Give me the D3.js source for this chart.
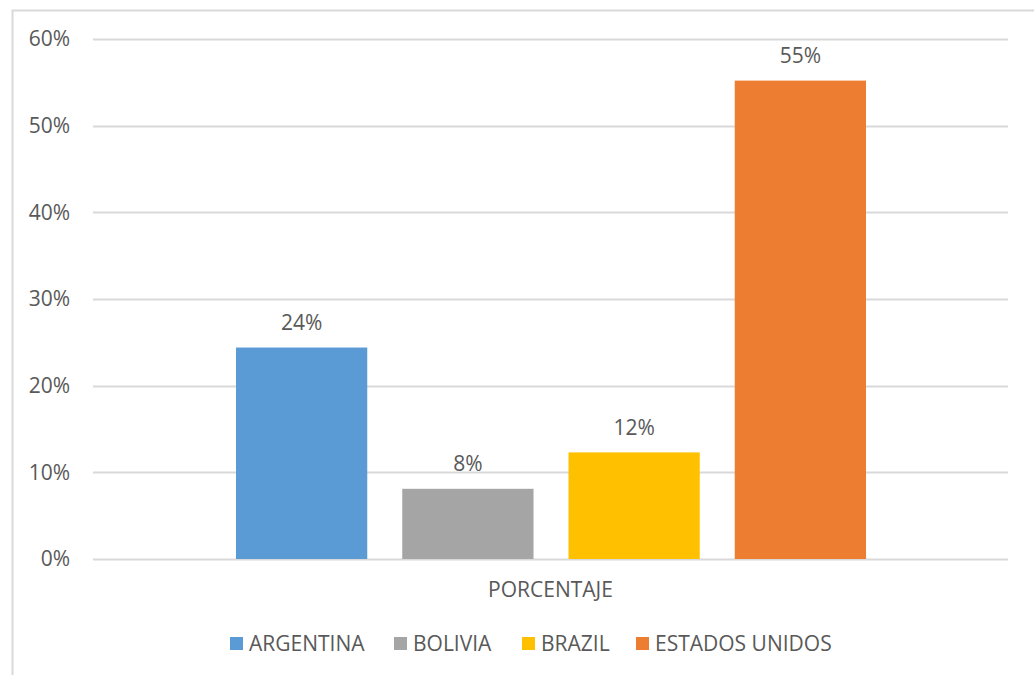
<!DOCTYPE html>
<html>
<head>
<meta charset="utf-8">
<script src="https://cdn.jsdelivr.net/npm/d3@7"></script>
<style>
  body { margin: 0; background: #fff; }
  svg text { font-family: "Open Sans", "Noto Sans", sans-serif; fill: #595959; }
</style>
</head>
<body>
<svg id="chart"></svg>
<script>
var countries = ['ARGENTINA', 'BOLIVIA', 'BRAZIL', 'ESTADOS UNIDOS'];
var values = [0.244, 0.081, 0.123, 0.552];
var valueLabels = ['24%', '8%', '12%', '55%'];
var colors = ['#5b9bd5', '#a5a5a5', '#ffc000', '#ed7d31'];
var yTicks = [0, 0.1, 0.2, 0.3, 0.4, 0.5, 0.6];
var categoryLabel = 'PORCENTAJE';

var width = 1034, height = 675;
var svg = d3.select('#chart').attr('width', width).attr('height', height);

// chart frame (right and bottom edges fall outside the picture)
svg.append('rect')
    .attr('x', 12.5).attr('y', 10.5)
    .attr('width', width + 10).attr('height', height + 10)
    .attr('fill', '#fff')
    .attr('stroke', '#d9d9d9')
    .attr('stroke-width', 2);

var plot = { left: 93, right: 1008, top: 39, bottom: 559 };

var y = d3.scaleLinear()
    .domain([0, 0.6])
    .range([plot.bottom, plot.top]);

var x = d3.scaleBand()
    .domain(countries)
    .range([236 - 17.5, 866 + 17.5])
    .paddingInner(35 / 166.3)
    .paddingOuter(17.5 / 166.3);

// gridlines
svg.append('g')
    .selectAll('line')
    .data(yTicks)
    .join('line')
    .attr('x1', plot.left).attr('x2', plot.right)
    .attr('y1', function (d) { return Math.round(y(d)) + 0.5; })
    .attr('y2', function (d) { return Math.round(y(d)) + 0.5; })
    .attr('stroke', '#d9d9d9')
    .attr('stroke-width', 2);

// y labels
svg.append('g')
    .selectAll('text')
    .data(yTicks)
    .join('text')
    .attr('x', 70)
    .attr('y', function (d) { return y(d); })
    .attr('dy', '0.35em')
    .attr('text-anchor', 'end')
    .style('font-size', '21px')
    .text(d3.format('.0%'));

// bars
svg.append('g')
    .selectAll('rect')
    .data(countries)
    .join('rect')
    .attr('x', function (d) { return x(d); })
    .attr('width', x.bandwidth())
    .attr('y', function (d, i) { return y(values[i]); })
    .attr('height', function (d, i) { return plot.bottom - y(values[i]); })
    .attr('fill', function (d, i) { return colors[i]; });

// value labels
svg.append('g')
    .selectAll('text')
    .data(countries)
    .join('text')
    .attr('x', function (d) { return x(d) + x.bandwidth() / 2; })
    .attr('y', function (d, i) { return y(values[i]) - 25; })
    .attr('dy', '0.35em')
    .attr('text-anchor', 'middle')
    .style('font-size', '21px')
    .text(function (d, i) { return valueLabels[i]; });

// category label
svg.append('text')
    .attr('x', (plot.left + plot.right) / 2)
    .attr('y', 590)
    .attr('dy', '0.35em')
    .attr('text-anchor', 'middle')
    .style('font-size', '21px')
    .text(categoryLabel);

// legend
var legendX = [230, 394, 522, 636];
var legend = svg.append('g')
    .selectAll('g')
    .data(countries)
    .join('g')
    .attr('transform', function (d, i) { return 'translate(' + legendX[i] + ',643.5)'; });

legend.append('rect')
    .attr('x', 0).attr('y', -6.5)
    .attr('width', 13).attr('height', 13)
    .attr('fill', function (d, i) { return colors[i]; });

legend.append('text')
    .attr('x', 19)
    .attr('dy', '0.35em')
    .style('font-size', '21px')
    .text(function (d) { return d; });
</script>
</body>
</html>
